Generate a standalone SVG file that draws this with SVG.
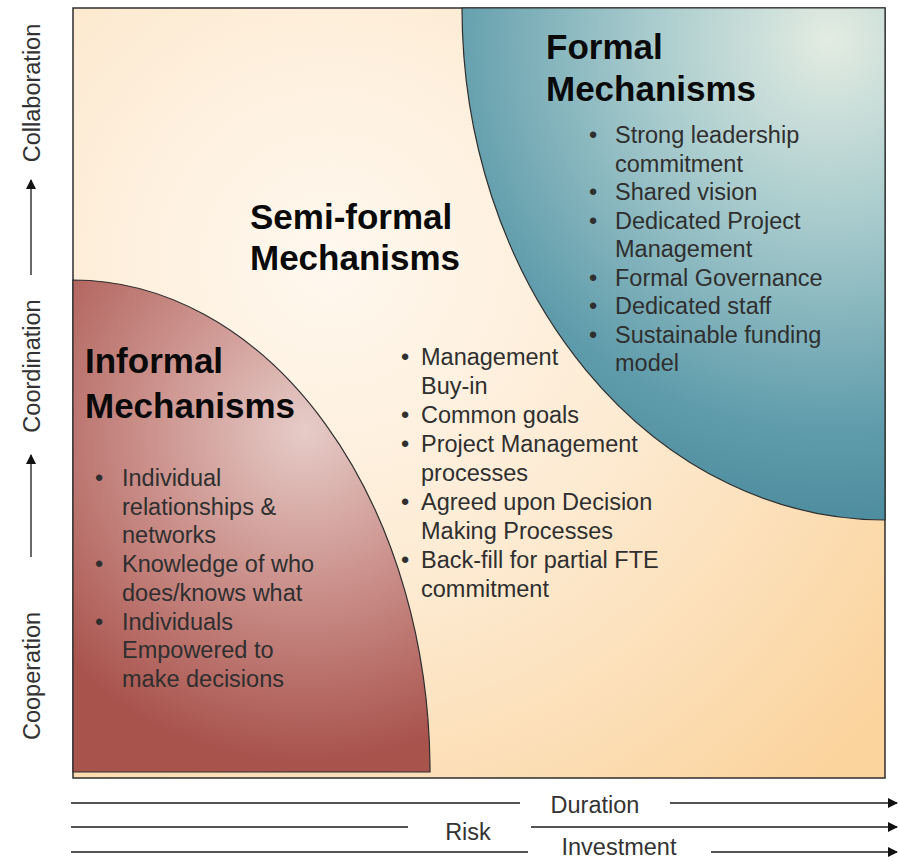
<svg xmlns="http://www.w3.org/2000/svg" width="899" height="861" viewBox="0 0 899 861">
<defs>
<radialGradient id="bg" gradientUnits="userSpaceOnUse" cx="330" cy="260" r="720">
<stop offset="0" stop-color="#fff8ef"/>
<stop offset="0.45" stop-color="#fdebd3"/>
<stop offset="1" stop-color="#fbd39c"/>
</radialGradient>
<radialGradient id="red" gradientUnits="userSpaceOnUse" cx="305" cy="430" r="330">
<stop offset="0" stop-color="#e6ccc8"/>
<stop offset="0.45" stop-color="#cd948f"/>
<stop offset="1" stop-color="#a9534d"/>
</radialGradient>
<radialGradient id="teal" gradientUnits="userSpaceOnUse" cx="830" cy="40" r="520">
<stop offset="0" stop-color="#e3ece2"/>
<stop offset="0.35" stop-color="#a8cbcd"/>
<stop offset="0.75" stop-color="#5f9cab"/>
<stop offset="1" stop-color="#47879a"/>
</radialGradient>
<marker id="ah" viewBox="0 0 10 10" refX="9" refY="5" markerWidth="10" markerHeight="10" markerUnits="userSpaceOnUse" orient="auto">
<path d="M0,0 L10,5 L0,10 Z" fill="#111"/>
</marker>
</defs>
<style>
.t{font-family:"Liberation Sans",Arial,sans-serif;fill:#2f2f2f;font-size:23.5px}
.h{font-family:"Liberation Sans",Arial,sans-serif;fill:#0a0a0a;font-size:35px;font-weight:bold}
.ax{font-family:"Liberation Sans",Arial,sans-serif;fill:#333;font-size:23.5px;text-anchor:middle}
.ln{stroke:#1a1a1a;stroke-width:1.3;fill:none}
.edge{stroke:#2e2e2e;stroke-width:1.2}
</style>
<rect x="73" y="8" width="812" height="770" fill="url(#bg)" stroke="#2e2e2e" stroke-width="1.5"/>

<g id="informal">
<path class="edge" d="M73,280 A357,492 0 0 1 430,772 L73,772 Z" fill="url(#red)"/>
<text class="h" x="85" y="373">Informal</text>
<text class="h" x="85" y="418">Mechanisms</text>
<text class="t" x="95" y="486">•</text>
<text class="t" x="95" y="572">•</text>
<text class="t" x="95" y="629.5">•</text>
<text class="t" x="122" y="486">Individual</text>
<text class="t" x="122" y="514.7">relationships &amp;</text>
<text class="t" x="122" y="543.4">networks</text>
<text class="t" x="122" y="572">Knowledge of who</text>
<text class="t" x="122" y="601">does/knows what</text>
<text class="t" x="122" y="629.5">Individuals</text>
<text class="t" x="122" y="658">Empowered to</text>
<text class="t" x="122" y="687">make decisions</text>
</g>

<g id="formal">
<path class="edge" d="M462,8 A423,512 0 0 0 885,520 L885,8 Z" fill="url(#teal)"/>
<text class="h" x="546" y="59">Formal</text>
<text class="h" x="546" y="101">Mechanisms</text>
<text class="t" x="589" y="143">•</text>
<text class="t" x="589" y="200">•</text>
<text class="t" x="589" y="228.5">•</text>
<text class="t" x="589" y="285.5">•</text>
<text class="t" x="589" y="314">•</text>
<text class="t" x="589" y="342.5">•</text>
<text class="t" x="615" y="143">Strong leadership</text>
<text class="t" x="615" y="171.5">commitment</text>
<text class="t" x="615" y="200">Shared vision</text>
<text class="t" x="615" y="228.5">Dedicated Project</text>
<text class="t" x="615" y="257">Management</text>
<text class="t" x="615" y="285.5">Formal Governance</text>
<text class="t" x="615" y="314">Dedicated staff</text>
<text class="t" x="615" y="342.5">Sustainable funding</text>
<text class="t" x="615" y="371">model</text>
</g>

<g id="semiformal">
<text class="h" x="250" y="229">Semi-formal</text>
<text class="h" x="250" y="270">Mechanisms</text>
<text class="t" x="401" y="365">•</text>
<text class="t" x="401" y="423">•</text>
<text class="t" x="401" y="452">•</text>
<text class="t" x="401" y="510">•</text>
<text class="t" x="401" y="568">•</text>
<text class="t" x="421" y="365">Management</text>
<text class="t" x="421" y="394">Buy-in</text>
<text class="t" x="421" y="423">Common goals</text>
<text class="t" x="421" y="452">Project Management</text>
<text class="t" x="421" y="481">processes</text>
<text class="t" x="421" y="510">Agreed upon Decision</text>
<text class="t" x="421" y="539">Making Processes</text>
<text class="t" x="421" y="568">Back-fill for partial FTE</text>
<text class="t" x="421" y="597">commitment</text>
</g>

<g id="axis-labels">
<text class="ax" transform="translate(40,93) rotate(-90)">Collaboration</text>
<text class="ax" transform="translate(40,366) rotate(-90)">Coordination</text>
<text class="ax" transform="translate(40,676) rotate(-90)">Cooperation</text>
<text class="ax" x="595" y="813">Duration</text>
<text class="ax" x="468" y="840">Risk</text>
<text class="ax" x="619" y="855">Investment</text>
</g>

<g id="connectors">
<line class="ln" x1="31" y1="275" x2="31" y2="180" marker-end="url(#ah)"/>
<line class="ln" x1="31" y1="557" x2="31" y2="455" marker-end="url(#ah)"/>
<line class="ln" x1="71" y1="803" x2="520" y2="803"/>
<line class="ln" x1="670" y1="803" x2="897" y2="803" marker-end="url(#ah)"/>
<line class="ln" x1="71" y1="827" x2="408" y2="827"/>
<line class="ln" x1="531" y1="827" x2="897" y2="827" marker-end="url(#ah)"/>
<line class="ln" x1="71" y1="852" x2="528" y2="852"/>
<line class="ln" x1="711" y1="852" x2="897" y2="852" marker-end="url(#ah)"/>
</g>
</svg>
